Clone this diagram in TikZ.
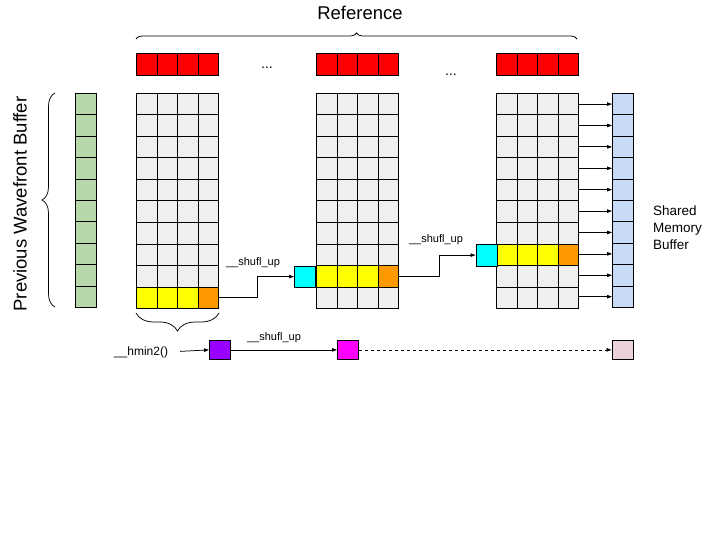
\documentclass[tikz,border=0pt]{standalone}
\usepackage{fontspec}
\setmainfont{Liberation Sans}
\usetikzlibrary{arrows.meta,decorations.pathreplacing}
\definecolor{cgrey}{HTML}{EFEFEF}
\definecolor{cred}{HTML}{FF0000}
\definecolor{cyellow}{HTML}{FFFF00}
\definecolor{corange}{HTML}{FF9900}
\definecolor{ccyan}{HTML}{00FFFF}
\definecolor{cgreen}{HTML}{B6D7A8}
\definecolor{cblue}{HTML}{C9DAF8}
\definecolor{cpurple}{HTML}{9900FF}
\definecolor{cmagenta}{HTML}{FF00FF}
\definecolor{cpink}{HTML}{EAD1DC}
\begin{document}
\begin{tikzpicture}[x=1pt,y=-1pt,
  cell/.style={draw,line width=0.75pt,inner sep=0pt,minimum width=20.6pt,minimum height=21.5pt,anchor=north west,fill=cgrey},
  sbox/.style={draw,line width=0.75pt,inner sep=0pt,minimum width=21pt,minimum height=19pt,anchor=north west},
  arr/.style={line width=0.75pt,-{Triangle[length=5pt,width=3.5pt]}},
  lbl/.style={inner sep=0pt,font=\fontsize{11}{13}\selectfont},
  bigtxt/.style={inner sep=0pt,font=\fontsize{18.5}{22}\selectfont},
  brc/.style={decorate,line width=0.75pt}]
\useasboundingbox (0,0) rectangle (720,540);
% grids
\foreach \g/\x in {1/136,2/316,3/496}{
  \pgfmathtruncatemacro{\hr}{11-\g}
  \foreach \r in {1,...,10}{
    \foreach \c in {1,...,4}{
      \ifnum\r=\hr\relax
        \ifnum\c=4\relax\def\fc{corange}\else\def\fc{cyellow}\fi
      \else\def\fc{cgrey}\fi
      \node[cell,fill=\fc] (g\g-\r-\c) at ({\x+(\c-1)*20.6},{93+(\r-1)*21.5}) {};
    }
  }
  \foreach \c in {1,...,4}{
    \node[cell,fill=cred,minimum height=22pt] (r\g-\c) at ({\x+(\c-1)*20.6},53) {};
  }
}
% previous wavefront buffer and shared memory buffer
\foreach \r in {1,...,10}{
  \node[cell,fill=cgreen,minimum width=21pt,minimum height=21.4pt] (pw-\r) at (75,{93+(\r-1)*21.4}) {};
  \node[cell,fill=cblue,minimum width=20.5pt,minimum height=21.4pt] (sm-\r) at (612,{93+(\r-1)*21.4}) {};
}
% cyan boxes
\node[cell,fill=ccyan,minimum width=21pt] (cy2) at (294,265.5) {};
\node[cell,fill=ccyan,minimum width=21pt] (cy3) at (475.5,244) {};
% bottom boxes
\node[sbox,fill=cpurple] (pu) at (209,340) {};
\node[sbox,fill=cmagenta] (mg) at (337,340) {};
\node[sbox,fill=cpink] (pk) at (611.5,340) {};
% texts
\node[bigtxt] (ref) at (360,13) {Reference};
\node[bigtxt,rotate=90] (pwb) at (20,204) {Previous Wavefront Buffer};
\node[inner sep=0pt,font=\fontsize{13.5}{17}\selectfont,align=left,anchor=west] (smb) at (653,228) {Shared\\Memory\\Buffer};
\node[inner sep=0pt,font=\fontsize{14}{16}\selectfont] (d1) at (267,68) {...};
\node[inner sep=0pt,font=\fontsize{14}{16}\selectfont] (d2) at (451,75) {...};
\node[lbl] (l1) at (253,263) {\_\_shufl\_up};
\node[lbl] (l2) at (436,240) {\_\_shufl\_up};
\node[lbl] (l3) at (274,338) {\_\_shufl\_up};
\node[inner sep=0pt,font=\fontsize{12}{14}\selectfont] (hm) at (141,352) {\_\_hmin2()};
% braces
\draw[brc,decoration={brace,amplitude=6pt}] (136,39) -- (577,39);
\draw[brc,decoration={brace,amplitude=18pt}] (219,313) -- (136,313);
\draw[brc,decoration={brace,amplitude=13pt}] (55,307) -- (55,93);
% connectors
\draw[arr] (g1-10-4.east) -- ++(38,0) |- (cy2.west);
\draw[arr] (g2-9-4.east) -- ++(40,0) |- (cy3.west);
\foreach \r in {1,...,10}{
  \draw[arr] (g3-\r-4.east |- sm-\r.west) -- (sm-\r.west);
}
\draw[arr,shorten <=12pt] (hm.east) -- (pu.west);
\draw[arr] (pu.east) -- (mg.west);
\draw[arr,dashed] (mg.east) -- (pk.west);
\end{tikzpicture}
\end{document}
